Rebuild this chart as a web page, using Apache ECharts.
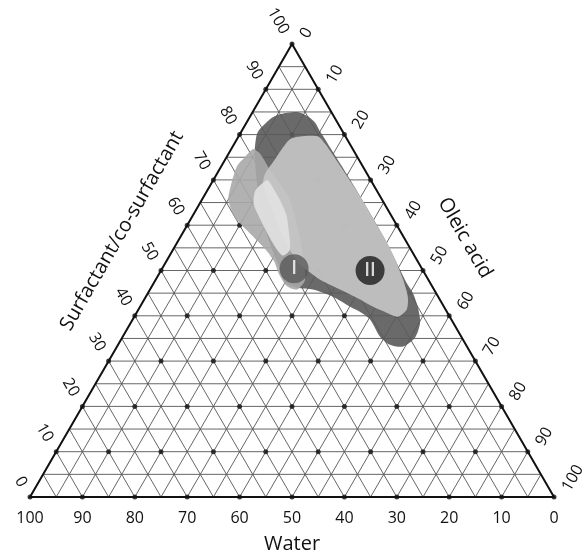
<!DOCTYPE html>
<html>
<head>
<meta charset="utf-8">
<script src="https://cdn.jsdelivr.net/npm/echarts@6/dist/echarts.min.js"></script>
<style>
html,body{margin:0;padding:0;background:#fff;}
#chart{width:584px;height:554px;}
</style>
</head>
<body>
<div id="chart"></div>
<script>
// ---- ternary data: each point is [oleicAcid, surfactant]; water = 100 - oleic - surfactant ----
const waterTicks = [100, 90, 80, 70, 60, 50, 40, 30, 20, 10, 0];
const surfactantTicks = [0, 10, 20, 30, 40, 50, 60, 70, 80, 90, 100];
const oleicTicks = [0, 10, 20, 30, 40, 50, 60, 70, 80, 90, 100];
const gridLevels = [5, 10, 15, 20, 25, 30, 35, 40, 45, 50, 55, 60, 65, 70, 75, 80, 85, 90, 95];
const dotLevels = [0, 10, 20, 30, 40, 50, 60, 70, 80, 90, 100];

const regionDark = [[4.5,76.8],[3.2,80.5],[4.1,83.4],[5.4,84.5],[8.5,85.0],[10.9,84.1],[13.0,82.7],[14.9,80.8],[16.8,79.0],[22.5,73.5],[29.8,66.4],[39.3,56.9],[45.5,50.2],[48.2,47.3],[50.5,45.1],[53.0,42.0],[55.2,38.5],[55.9,35.2],[54.6,33.2],[51.9,33.6],[49.1,35.4],[45.3,39.2],[42.5,40.9],[40.1,42.0],[35.7,44.2],[31.1,45.8],[27.9,46.2],[25.0,47.3],[22.6,50.2],[15.3,59.1],[9.5,67.9],[6.0,73.9]];
const regionMedium = [[4.2,76.8],[3.5,75.0],[3.0,73.0],[4.0,68.6],[5.0,65.7],[7.0,63.1],[8.7,61.3],[12.6,58.4],[17.7,54.6],[20.6,52.0],[23.0,49.1],[25.8,46.5],[28.1,45.8],[28.5,48.0],[23.1,56.9],[16.7,65.7],[9.6,72.3],[6.1,75.7]];
const regionLight = [[10.1,79.0],[11.7,79.6],[15.2,79.6],[17.4,77.9],[23.5,72.3],[29.8,66.4],[34.9,61.3],[40.0,56.2],[43.5,52.4],[47.2,48.0],[50.0,44.2],[51.2,41.4],[50.3,39.8],[47.7,40.7],[44.5,42.0],[41.2,43.6],[37.9,45.1],[34.6,46.5],[31.3,48.0],[28.6,49.6],[25.8,51.3],[22.3,54.6],[18.2,59.1],[13.5,64.6],[10.0,69.0],[9.2,71.2],[9.5,74.6],[9.7,77.2]];
const regionPale = [[9.2,67.5],[9.7,69.2],[10.4,69.9],[12.6,67.9],[14.8,65.7],[17.7,62.4],[20.1,58.6],[22.3,54.6],[21.6,53.3],[19.3,55.1],[16.4,58.0],[13.3,61.3],[10.4,64.6]];
const markerNames = ['I', 'II'];
const markerPoints = [[25.2, 50.4], [39.9, 50.0]];

const SQ = Math.sqrt(3) / 2;
function toXY(oleic, surf) { return [oleic + surf / 2, surf * SQ]; }

const FONT = '"Open Sans", "Noto Sans", sans-serif';

// grid lines (5% steps) for the three components
const gridLines = [];
gridLevels.forEach(k => {
  gridLines.push(toXY(0, k).concat(toXY(100 - k, k)));       // constant surfactant
  gridLines.push(toXY(k, 0).concat(toXY(k, 100 - k)));       // constant oleic acid
  gridLines.push(toXY(100 - k, 0).concat(toXY(0, 100 - k))); // constant water
});
const border = [toXY(0, 0), toXY(100, 0), toXY(0, 100)];

const dots = [];
dotLevels.forEach(o => dotLevels.forEach(s => { if (o + s <= 100) dots.push(toXY(o, s)); }));

function polySeries(pts, color, z) {
  return {
    type: 'custom', coordinateSystem: 'cartesian2d', z: z, silent: true,
    data: [[0, 0]],
    renderItem: function (params, api) {
      return {
        type: 'polygon',
        shape: { points: pts.map(p => api.coord(toXY(p[0], p[1]))), smooth: 0.25 },
        style: { fill: color, opacity: 0.9 }
      };
    }
  };
}

const labelData = [];
waterTicks.forEach(w => labelData.push({ kind: 'w', v: w, p: toXY(100 - w, 0) }));
surfactantTicks.forEach(s => labelData.push({ kind: 's', v: s, p: toXY(0, s) }));
oleicTicks.forEach(o => labelData.push({ kind: 'o', v: o, p: toXY(o, 100 - o) }));

const chart = echarts.init(document.getElementById('chart'), null, { renderer: 'canvas' });
chart.setOption({
  animation: false,
  backgroundColor: '#ffffff',
  grid: { left: 30, right: 30, top: 44, bottom: 57 },
  xAxis: { type: 'value', min: 0, max: 100, show: false },
  yAxis: { type: 'value', min: 0, max: 100 * SQ, show: false },
  series: [
    {
      type: 'custom', coordinateSystem: 'cartesian2d', z: 1, silent: true,
      data: gridLines,
      renderItem: function (params, api) {
        const a = api.coord([api.value(0), api.value(1)]);
        const b = api.coord([api.value(2), api.value(3)]);
        return { type: 'line', shape: { x1: a[0], y1: a[1], x2: b[0], y2: b[1] },
          style: { stroke: '#555', lineWidth: 0.9 } };
      }
    },
    {
      type: 'scatter', z: 2, silent: true, data: dots, symbol: 'circle', symbolSize: 5,
      itemStyle: { color: '#111' }
    },
    polySeries(regionDark, '#5a5a5a', 3),
    polySeries(regionMedium, '#a8a8a8', 4),
    polySeries(regionLight, '#c6c6c6', 5),
    polySeries(regionPale, '#e2e2e2', 6),
    {
      type: 'custom', coordinateSystem: 'cartesian2d', z: 7, silent: true,
      data: [[0, 0]],
      renderItem: function (params, api) {
        return { type: 'polygon', shape: { points: border.map(p => api.coord(p)) },
          style: { fill: 'none', stroke: '#111', lineWidth: 2 } };
      }
    },
    {
      type: 'scatter', z: 8, silent: true, symbol: 'circle', symbolSize: 29,
      data: markerPoints.map((p, i) => ({
        value: toXY(p[0], p[1]),
        itemStyle: { color: i === 0 ? '#5a5a5a' : '#1c1c1c' },
        label: { show: true, position: 'inside', formatter: markerNames[i], color: '#fff',
          fontSize: 19, fontFamily: FONT, fontWeight: 600 }
      }))
    },
    {
      type: 'custom', coordinateSystem: 'cartesian2d', z: 9, silent: true,
      data: labelData.map(d => d.p),
      renderItem: function (params, api) {
        const d = labelData[params.dataIndex];
        const c = api.coord(d.p);
        let el;
        if (d.kind === 'w') {
          el = { x: c[0], y: c[1] + 21, rotation: 0, align: 'center' };
        } else if (d.kind === 's') {
          el = { x: c[0] - 7, y: c[1] - 11, rotation: -Math.PI / 3, align: 'right' };
        } else {
          el = { x: c[0] + 12, y: c[1] - 7, rotation: Math.PI / 3, align: 'left' };
        }
        return {
          type: 'text', x: el.x, y: el.y, rotation: el.rotation,
          style: { text: String(d.v), fill: '#111', font: '16px ' + FONT,
            align: el.align, verticalAlign: 'middle', textAlign: el.align, textVerticalAlign: 'middle' }
        };
      }
    }
  ],
  graphic: [
    { type: 'text', x: 292, y: 544, style: { text: 'Water', fill: '#111', font: '20px ' + FONT, align: 'center', verticalAlign: 'middle', textAlign: 'center', textVerticalAlign: 'middle' } },
    { type: 'text', x: 122, y: 231, rotation: Math.PI / 3, style: { text: 'Surfactant/co-surfactant', fill: '#111', font: '20px ' + FONT, align: 'center', verticalAlign: 'middle', textAlign: 'center', textVerticalAlign: 'middle' } },
    { type: 'text', x: 465, y: 238, rotation: -Math.PI / 3, style: { text: 'Oleic acid', fill: '#111', font: '20px ' + FONT, align: 'center', verticalAlign: 'middle', textAlign: 'center', textVerticalAlign: 'middle' } }
  ]
});
</script>
</body>
</html>
